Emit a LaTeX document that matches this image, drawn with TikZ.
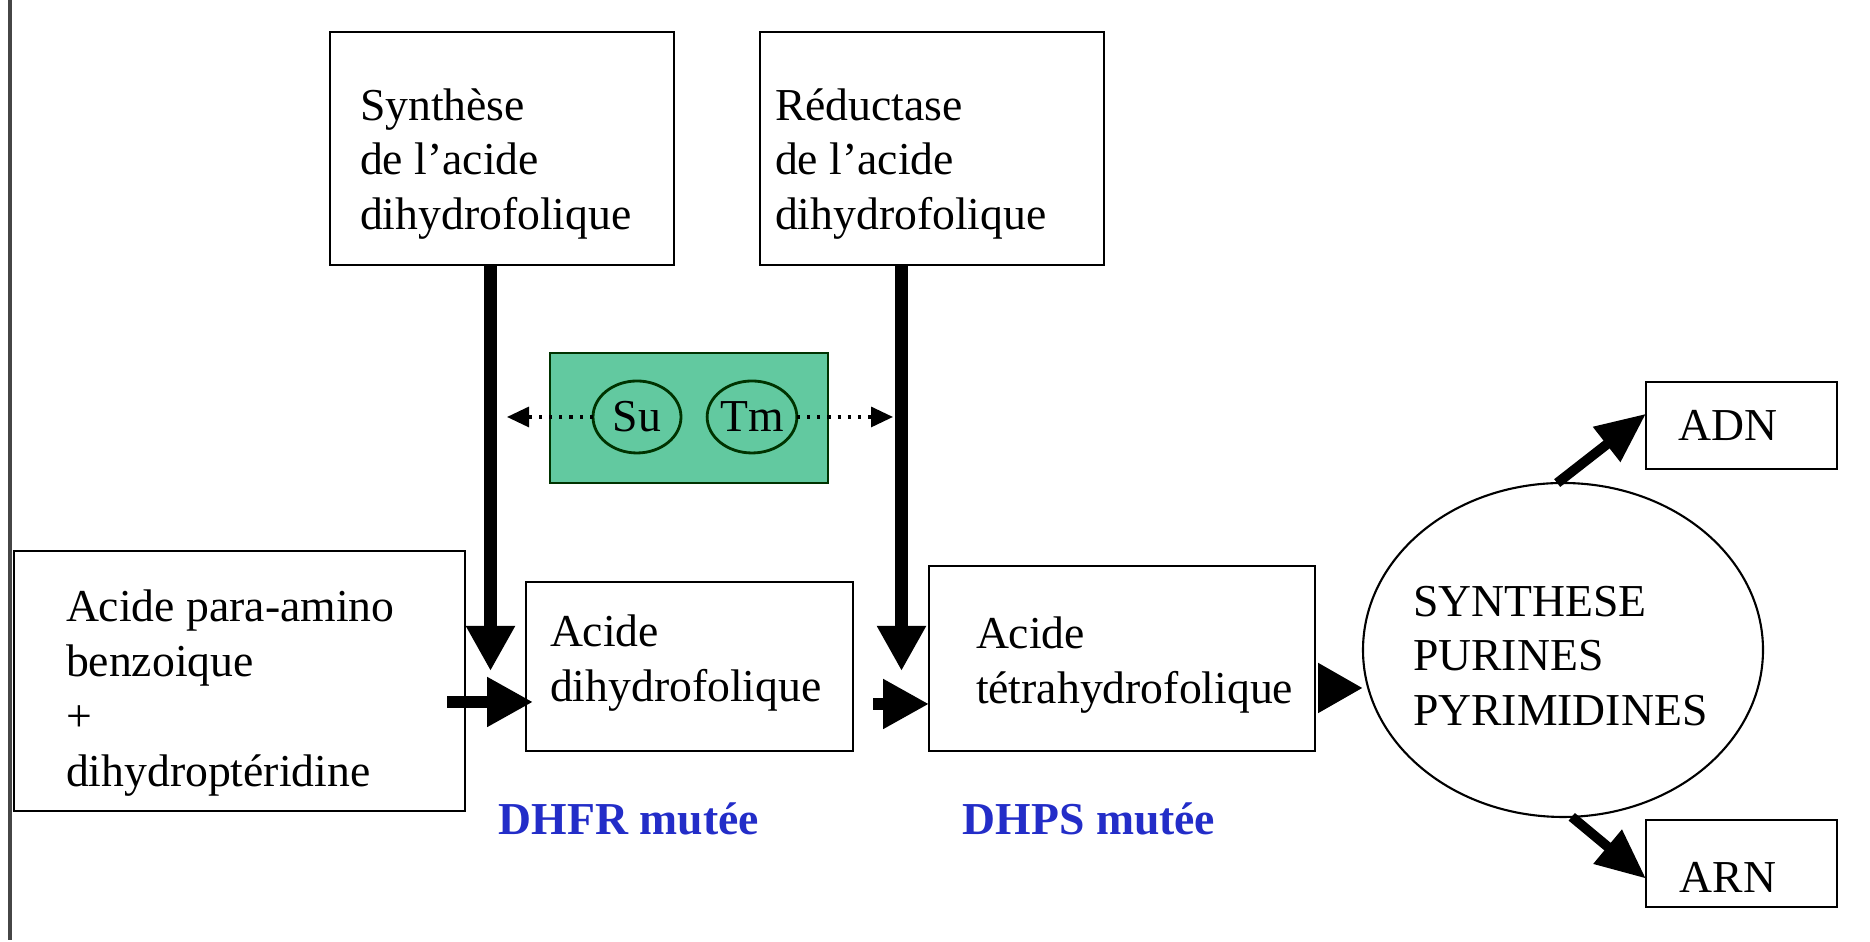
\documentclass[tikz,border=0pt]{standalone}
\usepackage{fontspec}
\setmainfont{Liberation Serif}
\usetikzlibrary{arrows.meta,shapes.geometric,calc}
\definecolor{boxgreen}{RGB}{98,201,160}
\definecolor{mutblue}{RGB}{35,45,200}
\definecolor{edgegray}{RGB}{70,70,70}
\begin{document}
\begin{tikzpicture}[
  every node/.style={inner sep=0pt, outer sep=0pt},
  boxshape/.style={draw=black, line width=0.8pt, rectangle, fill=white},
  txt/.style={font=\fontsize{13}{15.6}\selectfont, align=left, anchor=west},
  bigarrow/.style={line width=3.6pt, -{Triangle[length=0.45cm, width=0.46cm]}},
  sidearrow/.style={line width=3.2pt, -{Triangle[length=0.46cm, width=0.47cm]}},
  diagarrow/.style={line width=2.8pt, -{Triangle[length=0.5cm, width=0.42cm]}},
  dotarrow/.style={line width=0.9pt, dotted, -{Triangle[length=0.22cm, width=0.2cm]}},
  mutlabel/.style={font=\fontsize{13}{15.6}\selectfont\bfseries, text=mutblue},
]
\useasboundingbox (0,0) rectangle (18.7,9.42);
% left margin line
\draw[edgegray, line width=1pt] (0.10,9.42) -- (0.10,0.02);

% top boxes
\node[boxshape, minimum width=3.44cm, minimum height=2.33cm] (syn) at (5.02,7.935) {};
\node[txt] (syntxt) at (3.60,7.78) {Synthèse\\de l’acide\\dihydrofolique};
\node[boxshape, minimum width=3.44cm, minimum height=2.33cm] (red) at (9.32,7.935) {};
\node[txt] (redtxt) at (7.75,7.78) {Réductase\\de l’acide\\dihydrofolique};

% green box with Su / Tm
\node[draw=black!80!green, line width=0.8pt, fill=boxgreen, minimum width=2.78cm, minimum height=1.30cm] (grn) at (6.89,5.24) {};
\node[ellipse, draw=black!80!green, line width=0.8pt, minimum width=0.88cm, minimum height=0.72cm, font=\fontsize{13}{15.6}\selectfont] (su) at (6.37,5.25) {Su};
\node[ellipse, draw=black!80!green, line width=0.8pt, minimum width=0.88cm, minimum height=0.72cm, font=\fontsize{13}{15.6}\selectfont] (tm) at (7.52,5.25) {Tm};
\coordinate (dl) at (5.07,5.25);
\coordinate (dr) at (8.93,5.25);
\draw[dotarrow] (su.west) -- (dl);
\draw[dotarrow] (tm.east) -- (dr);

% bottom row
\node[boxshape, minimum width=4.51cm, minimum height=2.60cm] (para) at (2.395,2.61) {};
\node[txt] (paratxt) at (0.66,2.49) {Acide para-amino\\benzoique\\+\\dihydroptéridine};
\node[boxshape, minimum width=3.27cm, minimum height=1.69cm] (dhf) at (6.895,2.755) {};
\node[txt] (dhftxt) at (5.50,2.79) {Acide\\dihydrofolique};
\node[boxshape, minimum width=3.86cm, minimum height=1.85cm] (thf) at (11.22,2.835) {};
\node[txt] (thftxt) at (9.76,2.77) {Acide\\tétrahydrofolique};

\node[ellipse, draw=black, line width=0.6pt, minimum width=4.0cm, minimum height=3.34cm] (ell) at (15.63,2.92) {};
\node[txt] (elltxt) at (14.13,2.86) {SYNTHESE\\PURINES\\PYRIMIDINES};

\node[boxshape, minimum width=1.91cm, minimum height=0.87cm] (adn) at (17.415,5.165) {};
\node[font=\fontsize{13}{15.6}\selectfont] (adntxt) at (17.28,5.165) {ADN};
\node[boxshape, minimum width=1.91cm, minimum height=0.87cm] (arn) at (17.415,0.785) {};
\node[font=\fontsize{13}{15.6}\selectfont] (arntxt) at (17.28,0.65) {ARN};

\node[mutlabel] (dhfr) at (6.29,1.23) {DHFR mutée};
\node[mutlabel] (dhps) at (10.89,1.23) {DHPS mutée};

% vertical arrows
\coordinate (v1tip) at (4.905,2.71);
\coordinate (v2tip) at (9.015,2.71);
\draw[bigarrow] (syn.south -| v1tip) -- (v1tip);
\draw[bigarrow] (red.south -| v2tip) -- (v2tip);

% horizontal arrows
\coordinate (h1s) at (4.47,2.40);
\coordinate (h2s) at (8.73,2.38);
\coordinate (h3s) at (13.22,2.54);
\draw[sidearrow, shorten >=-0.07cm] (h1s) -- (dhf.west |- h1s);
\draw[sidearrow] (h2s) -- (thf.west |- h2s);
\draw[sidearrow, -{Triangle[length=0.45cm, width=0.47cm]}] (h3s) -- (ell.west |- h3s);

% diagonal arrows
\draw[diagarrow] (ell.92) -- (adn.173);
\draw[diagarrow] (ell.-87) -- (arn.189);
\end{tikzpicture}
\end{document}
